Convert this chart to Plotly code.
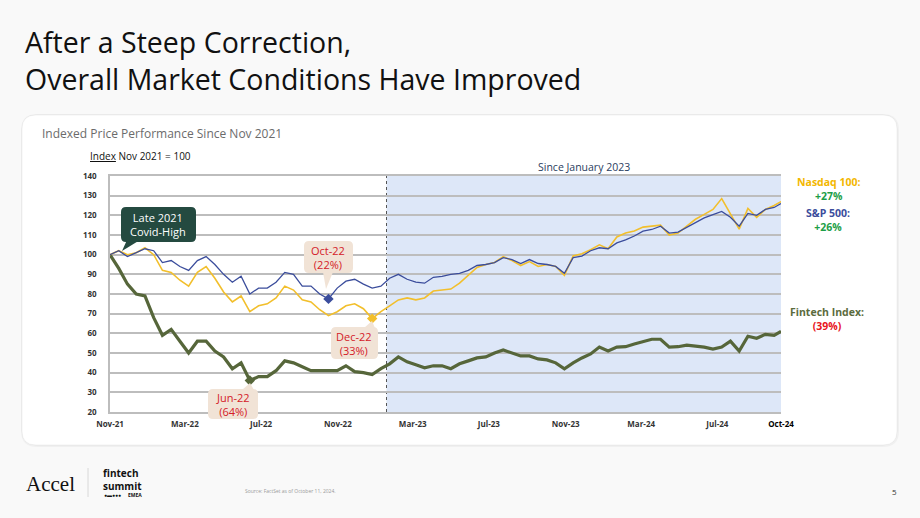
import plotly.graph_objects as go
import pandas as pd

# ---------------- data ----------------
dates = list(pd.date_range("2021-11-01", periods=77, freq="14D").strftime("%Y-%m-%d")) + ["2024-10-11"]

nasdaq = [100, 102, 100, 101, 103.5, 100, 92, 91, 87, 84,
          91, 94, 88, 81, 76, 79, 71, 74, 75, 78,
          84, 82, 77, 76, 72, 69, 71, 74, 75, 72.5,
          67.5, 71, 74, 77, 78, 77, 78, 81.5, 82, 82.5,
          85.5, 89.5, 93.5, 95, 96, 99, 97, 94.5, 96.5, 94,
          95, 94, 89.5, 99.3, 100.5, 102.5, 105, 103, 109, 111,
          112, 114, 114.5, 115, 110, 111, 114.5, 118, 120.5, 123,
          128.5, 121, 113, 123.5, 119, 123, 125, 127]

sp500 = [100, 102, 99, 101, 103, 102, 96, 97, 94, 92,
         97, 99, 95, 90, 86, 89, 80, 83, 83, 86,
         91, 90, 84, 84, 80, 77.5, 83, 86.5, 87.5, 85,
         83, 84, 88, 90, 87.5, 86, 85.5, 88.5, 89, 90,
         90.5, 92, 94.5, 95, 96, 98.5, 97.5, 95.5, 97.5, 95.5,
         95, 94, 90.5, 98.5, 99.3, 102, 103.5, 103, 106, 107.5,
         109.5, 112, 112.8, 114.5, 111, 111.5, 114, 116.5, 118.7, 120.4,
         122, 119, 114.5, 121, 120, 123, 124, 126]

fintech = [100, 93, 85, 80, 79, 68, 59, 62, 56, 50,
           56, 56, 51, 48, 42, 45, 36, 38, 38, 41,
           46, 45, 43, 41, 41, 41, 41, 43.5, 40.5, 40,
           39, 42, 44.5, 48, 45.5, 44, 42.5, 43.5, 43.5, 42,
           44.5, 46, 47.5, 48, 50, 51.5, 50, 48.5, 48.5, 47,
           46.5, 45, 42, 45, 47.5, 49.5, 53, 51, 53, 53.2,
           54.6, 55.8, 57, 57, 53, 53.2, 54, 53.5, 53, 52,
           53, 56, 51, 58.5, 57.5, 59.5, 59, 61]

# index of the trough points that are marked
jun22_idx, oct22_idx, dec22_idx = 16, 25, 30

x_tickvals = ["2021-11-01", "2022-03-01", "2022-07-01", "2022-11-01", "2023-03-01",
              "2023-07-01", "2023-11-01", "2024-03-01", "2024-07-01", "2024-10-11"]
x_ticktext = ["Nov-21", "Mar-22", "Jul-22", "Nov-22", "Mar-23",
              "Jul-23", "Nov-23", "Mar-24", "Jul-24", "<span style='color:#000'>Oct-24</span>"]
y_tickvals = [20, 30, 40, 50, 60, 70, 80, 90, 100, 110, 120, 130, 140]

shade_start = "2023-01-18"
shade_end = "2024-10-11"

# ---------------- styling ----------------
FONT = "Open Sans"
C_NAS = "#f2bf2c"
C_SP = "#3b4d9c"
C_FIN = "#56663a"
C_RED = "#d42028"
C_POS = "#1d9e47"
C_BEIGE = "#f1e3d6"

W, H = 920, 518
L, R, T, B = 110, 139, 176, 106
PW, PH = W - L - R, H - T - B


def fx(x):
    return (x - L) / PW


def fy(y):
    return (H - B - y) / PH


def rrect(x0, y0, x1, y1, r):
    return (f"M {fx(x0 + r)},{fy(y0)} L {fx(x1 - r)},{fy(y0)} "
            f"Q {fx(x1)},{fy(y0)} {fx(x1)},{fy(y0 + r)} L {fx(x1)},{fy(y1 - r)} "
            f"Q {fx(x1)},{fy(y1)} {fx(x1 - r)},{fy(y1)} L {fx(x0 + r)},{fy(y1)} "
            f"Q {fx(x0)},{fy(y1)} {fx(x0)},{fy(y1 - r)} L {fx(x0)},{fy(y0 + r)} "
            f"Q {fx(x0)},{fy(y0)} {fx(x0 + r)},{fy(y0)} Z")


def tri(p):
    (a, b), (c, d), (e, f) = p
    return f"M {fx(a)},{fy(b)} L {fx(c)},{fy(d)} L {fx(e)},{fy(f)} Z"


def pshape(path, fill, line=None, layer="above"):
    return dict(type="path", xref="paper", yref="paper", path=path, fillcolor=fill,
                line=dict(width=0 if line is None else 1, color=line or "rgba(0,0,0,0)"),
                layer=layer)


def txt(x, y, s, size, color, weight="normal", xanchor="center", yanchor="middle", family=FONT, align="center"):
    return dict(xref="paper", yref="paper", x=fx(x), y=fy(y), text=s, showarrow=False,
                xanchor=xanchor, yanchor=yanchor, align=align,
                font=dict(family=family, size=size, color=color, weight=weight))


fig = go.Figure()

fig.add_trace(go.Scatter(x=dates, y=fintech, mode="lines", line=dict(color=C_FIN, width=3.2), name="Fintech Index"))
fig.add_trace(go.Scatter(x=dates, y=nasdaq, mode="lines", line=dict(color=C_NAS, width=1.6), name="Nasdaq 100"))
fig.add_trace(go.Scatter(x=dates, y=sp500, mode="lines", line=dict(color=C_SP, width=1.3), name="S&P 500"))

fig.add_trace(go.Scatter(x=[dates[jun22_idx]], y=[fintech[jun22_idx]], mode="markers",
                         marker=dict(symbol="diamond", size=8, color=C_FIN)))
fig.add_trace(go.Scatter(x=[dates[oct22_idx]], y=[sp500[oct22_idx]], mode="markers",
                         marker=dict(symbol="diamond", size=8, color=C_SP)))
fig.add_trace(go.Scatter(x=[dates[dec22_idx]], y=[nasdaq[dec22_idx]], mode="markers",
                         marker=dict(symbol="diamond", size=8, color=C_NAS)))

shapes = [
    pshape(rrect(21, 114, 899, 447, 16), "rgba(0,0,0,0.035)", layer="below"),
    pshape(rrect(22, 115, 897, 445, 14), "#ffffff", line="rgba(0,0,0,0.05)", layer="below"),
    dict(type="rect", xref="x", yref="paper", x0=shade_start, x1=shade_end, y0=0, y1=1,
         fillcolor="#dde7f8", line=dict(width=0), layer="below"),
    dict(type="line", xref="x", yref="paper", x0=shade_start, x1=shade_start, y0=0, y1=1,
         line=dict(color="#555555", width=1, dash="dot"), layer="between"),
    # Late 2021 callout
    pshape(rrect(121, 207, 196, 242, 5), "#244a40"),
    pshape(tri([(127, 240), (140, 240), (122, 251)]), "#244a40"),
    # Oct-22 callout
    pshape(rrect(304, 241, 353, 273, 5), C_BEIGE),
    pshape(tri([(323, 272), (333, 272), (326, 289)]), C_BEIGE),
    # Dec-22 callout
    pshape(rrect(331, 327, 378, 359, 5), C_BEIGE),
    pshape(tri([(364, 328), (375, 328), (372, 321)]), C_BEIGE),
    # Jun-22 callout
    pshape(rrect(208, 389, 258, 419, 5), C_BEIGE),
    pshape(tri([(242, 390), (254, 390), (250, 383)]), C_BEIGE),
    # footer separator
    dict(type="line", xref="paper", yref="paper", x0=fx(88), x1=fx(88), y0=fy(468), y1=fy(497),
         line=dict(color="#d8d8d8", width=1)),
]

annotations = [
    txt(23, 61, "After a Steep Correction,<br>Overall Market Conditions Have Improved", 28.5, "#111111",
        weight=500, xanchor="left", align="left"),
    txt(40, 133, "Indexed Price Performance Since Nov 2021", 12, "#6b6b6b", xanchor="left"),
    txt(88, 156, "<u>Index</u> Nov 2021 = 100", 10, "#111111", xanchor="left"),
    txt(584, 167, "Since January 2023", 10.5, "#2a3d5e"),
    txt(158, 224.5, "Late 2021<br>Covid-High", 11, "#ffffff"),
    txt(328, 257.5, "Oct-22<br>(22%)", 11, C_RED),
    txt(354, 343.5, "Dec-22<br>(33%)", 11, C_RED),
    txt(233, 404.5, "Jun-22<br>(64%)", 11, C_RED),
    txt(828, 189, "<span style='color:#f3b700'>Nasdaq 100:</span><br><span style='color:%s'>+27%%</span>" % C_POS,
        10.5, C_POS, weight="bold"),
    txt(828, 220, "<span style='color:%s'>S&P 500:</span><br>+26%%" % C_SP, 10.5, C_POS, weight="bold"),
    txt(827, 318.5, "<span style='color:#5b6b3d'>Fintech Index:</span><br>(39%)", 10.5, "#e8141c", weight="bold"),
    # footer
    txt(24, 484, "Accel", 21, "#111111", xanchor="left", family="Liberation Serif"),
    txt(101, 479, "fintech<br>summit", 10, "#111111", weight="bold", xanchor="left", align="left"),
    txt(102, 495, "●▬●●●", 5, "#111111", xanchor="left"),
    txt(126, 495, "EMEA", 5, "#111111", weight="bold", xanchor="left"),
    txt(243, 491, "Source: FactSet as of October 11, 2024.", 5, "#999999", xanchor="left"),
    txt(894, 491, "5", 8, "#333333"),
]

fig.update_layout(
    width=W, height=H, autosize=False,
    margin=dict(l=L, r=R, t=T, b=B),
    paper_bgcolor="#f9f9f9", plot_bgcolor="rgba(0,0,0,0)",
    showlegend=False,
    shapes=shapes, annotations=annotations,
    font=dict(family=FONT),
)

fig.update_xaxes(
    type="date", range=["2021-11-01", "2024-10-11"],
    tickvals=x_tickvals, ticktext=x_ticktext,
    tickfont=dict(family=FONT, size=8, color="#333333", weight="bold"),
    showgrid=False, zeroline=False,
    showline=True, linecolor="#bdbdbd", linewidth=1.5, mirror=True,
    ticks="", ticklabelstandoff=4,
)
fig.update_yaxes(
    range=[20, 140], tickvals=y_tickvals,
    tickfont=dict(family=FONT, size=8, color="#333333", weight="bold"),
    showgrid=True, gridcolor="#bdbdbd", gridwidth=1.5,
    zeroline=False, showline=True, linecolor="#bdbdbd", linewidth=1.5,
    ticks="", ticklabelstandoff=10,
)

fig.write_html("out.html", config={"displayModeBar": False})
